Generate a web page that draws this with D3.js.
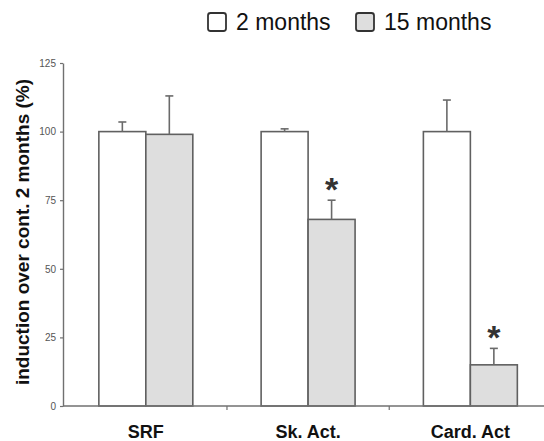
<!DOCTYPE html>
<html>
<head>
<meta charset="utf-8">
<script src="https://cdn.jsdelivr.net/npm/d3@7"></script>
<style>
  html, body { margin: 0; padding: 0; background: #fff; }
  svg { display: block; font-family: "Liberation Sans", Arial, sans-serif; }
</style>
</head>
<body>
<svg id="chart" width="544" height="441"></svg>
<script>
// Expression relative to 2-month controls
const categories = ["SRF", "Sk. Act.", "Card. Act"];
const seriesNames = ["2 months", "15 months"];
const values2m = [100, 100, 100];
const values15m = [99, 68, 15];
const errors2m = [3.5, 1, 11.5];
const errors15m = [14, 7, 6];
const significant15m = [false, true, true];
const yTicks = [0, 25, 50, 75, 100, 125];
const yLabel = "induction over cont. 2 months (%)";

const fills = ["#ffffff", "#dedede"];
const rows = [];
categories.forEach((c, i) => {
  rows.push({ cat: c, series: seriesNames[0], value: values2m[i], err: errors2m[i], sig: false });
  rows.push({ cat: c, series: seriesNames[1], value: values15m[i], err: errors15m[i], sig: significant15m[i] });
});

const svg = d3.select("#chart");
const axisLeftX = 63, plotTop = 63, plotBottom = 406;

const y = d3.scaleLinear().domain([0, 125]).range([plotBottom, plotTop]);
const x0 = d3.scaleBand().domain(categories).range([64.7, 551.5]).padding(0);
const x1 = d3.scaleBand().domain(seriesNames).range([0, x0.bandwidth()])
  .paddingInner(0).paddingOuter(0.727);
const color = d3.scaleOrdinal().domain(seriesNames).range(fills);

// Bars
svg.append("g").selectAll("rect").data(rows).join("rect")
  .attr("x", d => x0(d.cat) + x1(d.series))
  .attr("y", d => y(d.value))
  .attr("width", x1.bandwidth())
  .attr("height", d => y(0) - y(d.value))
  .attr("fill", d => color(d.series))
  .attr("stroke", "#606060")
  .attr("stroke-width", 1.6);

// Error bars (upper whisker only)
const eb = svg.append("g").attr("stroke", "#6a6a6a").attr("stroke-width", 1.6);
rows.forEach(d => {
  const cx = x0(d.cat) + x1(d.series) + x1.bandwidth() / 2;
  eb.append("line").attr("x1", cx).attr("x2", cx)
    .attr("y1", y(d.value)).attr("y2", y(d.value + d.err));
  eb.append("line").attr("x1", cx - 4).attr("x2", cx + 4)
    .attr("y1", y(d.value + d.err)).attr("y2", y(d.value + d.err));
});

// Significance markers
svg.append("g").selectAll("text").data(rows.filter(d => d.sig)).join("text")
  .attr("x", d => x0(d.cat) + x1(d.series) + x1.bandwidth() / 2)
  .attr("y", d => y(d.value + d.err) + 1)
  .attr("text-anchor", "middle")
  .attr("font-size", 34)
  .attr("font-weight", "bold")
  .attr("fill", "#333")
  .text("*");

// Y axis
const yAxis = svg.append("g")
  .attr("transform", `translate(${axisLeftX},0)`)
  .call(d3.axisLeft(y).tickValues(yTicks).tickSize(3).tickPadding(4).tickSizeOuter(0));
yAxis.select(".domain").attr("stroke", "#707070").attr("stroke-width", 1.4);
yAxis.selectAll(".tick line").attr("stroke", "#707070").attr("stroke-width", 1.2);
yAxis.selectAll(".tick text").attr("font-size", 10).attr("fill", "#555")
  .attr("font-family", "Liberation Sans, Arial, sans-serif");

// X axis: baseline, boundary ticks, category labels
const xg = svg.append("g");
xg.append("line").attr("x1", axisLeftX).attr("x2", 544)
  .attr("y1", y(0)).attr("y2", y(0))
  .attr("stroke", "#707070").attr("stroke-width", 1.4);
xg.selectAll("line.tk").data(categories.slice(1)).join("line")
  .attr("class", "tk")
  .attr("x1", d => x0(d)).attr("x2", d => x0(d))
  .attr("y1", y(0)).attr("y2", y(0) + 4)
  .attr("stroke", "#707070").attr("stroke-width", 1.2);
xg.selectAll("text").data(categories).join("text")
  .attr("x", d => x0(d) + x0.bandwidth() / 2)
  .attr("y", 438)
  .attr("text-anchor", "middle")
  .attr("font-size", 18)
  .attr("font-weight", "bold")
  .attr("fill", "#111")
  .text(d => d);

// Y axis title
svg.append("text")
  .attr("transform", "translate(29,232) rotate(-90)")
  .attr("text-anchor", "middle")
  .attr("font-size", 19)
  .attr("font-weight", "bold")
  .attr("fill", "#111")
  .text(yLabel);

// Legend
const legendX = [208, 356];
const lg = svg.append("g");
seriesNames.forEach((s, i) => {
  lg.append("rect")
    .attr("x", legendX[i]).attr("y", 13)
    .attr("width", 18).attr("height", 18)
    .attr("rx", 2.5)
    .attr("fill", color(s))
    .attr("stroke", "#333").attr("stroke-width", 1.8);
  lg.append("text")
    .attr("x", legendX[i] + 28).attr("y", 30)
    .attr("font-size", 23)
    .attr("fill", "#111")
    .text(s);
});
</script>
</body>
</html>
